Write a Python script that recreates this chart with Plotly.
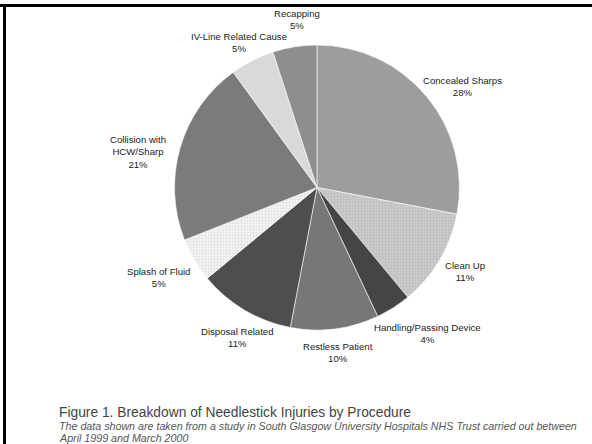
import plotly.graph_objects as go

# Needlestick injuries by procedure (percent of total), clockwise from 12 o'clock
procedures = ["Concealed Sharps", "Clean Up", "Handling/Passing Device",
              "Restless Patient", "Disposal Related", "Splash of Fluid",
              "Collision with HCW/Sharp", "IV-Line Related Cause", "Recapping"]
shares = [28, 11, 4, 10, 11, 5, 21, 5, 5]
label_text = ["Concealed Sharps", "Clean Up", "Handling/Passing Device",
              "Restless Patient", "Disposal Related", "Splash of Fluid",
              "Collision with<br>HCW/Sharp", "IV-Line Related Cause", "Recapping"]

slice_colors = ["#9d9d9d", "#cbcbcb", "#454545", "#777777", "#4e4e4e",
                "#f4f4f4", "#7b7b7b", "#d9d9d9", "#8e8e8e"]
pattern_shapes = ["", ".", "", "", "", ".", "", "", ""]
pattern_fg = ["#9d9d9d", "#a9a9a9", "#454545", "#777777", "#4e4e4e",
              "#c8c8c8", "#7b7b7b", "#d9d9d9", "#8e8e8e"]

caption_title = "Figure 1. Breakdown of Needlestick Injuries by Procedure"
caption_lines = ["The data shown are taken from a study in South Glasgow University "
                 "Hospitals NHS Trust carried out between",
                 "April 1999 and March 2000"]

# label centres in pixels (x from left, y from top) of the 592x444 canvas
label_px = [(462, 86), (465, 271), (427, 333), (338, 352), (237, 337),
            (158, 277), (138, 152), (239, 42), (297, 20)]

W, H = 592, 444

fig = go.Figure(go.Pie(
    labels=procedures, values=shares, sort=False,
    direction="clockwise", rotation=0,
    textinfo="none", hoverinfo="label+percent",
    marker=dict(colors=slice_colors,
                line=dict(color="white", width=0.6),
                pattern=dict(shape=pattern_shapes, fgcolor=pattern_fg,
                             size=3, solidity=0.35, fillmode="overlay")),
    domain=dict(x=[174 / W, 460 / W], y=[(H - 330) / H, (H - 45) / H]),
    showlegend=False,
))

font = "Liberation Sans, Arial, sans-serif"
for txt, v, (px, py) in zip(label_text, shares, label_px):
    fig.add_annotation(x=px / W, y=1 - py / H, xref="paper", yref="paper",
                       text=f"{txt}<br>{v}%", showarrow=False,
                       font=dict(family=font, size=9.6, color="#222222"),
                       align="center", xanchor="center", yanchor="middle")

fig.add_annotation(x=57 / W, y=1 - 412 / H, xref="paper", yref="paper",
                   text=caption_title,
                   showarrow=False, xanchor="left", yanchor="middle",
                   font=dict(family=font, size=13.8, color="#444444"))
for line, py in zip(caption_lines, [425.5, 437.5]):
    fig.add_annotation(x=57 / W, y=1 - py / H, xref="paper", yref="paper",
                       text=f"<i>{line}</i>",
                       showarrow=False, xanchor="left", yanchor="middle",
                       font=dict(family=font, size=10.7, color="#555555"))

# frame: thick black rule along the top and left edges
fig.add_shape(type="line", xref="paper", yref="paper",
              x0=0, x1=1, y0=1 - 5.5 / H, y1=1 - 5.5 / H,
              line=dict(color="black", width=3))
fig.add_shape(type="line", xref="paper", yref="paper",
              x0=4.5 / W, x1=4.5 / W, y0=0, y1=1 - 4 / H,
              line=dict(color="black", width=3))

fig.update_layout(width=W, height=H, margin=dict(l=0, r=0, t=0, b=0),
                  paper_bgcolor="white", plot_bgcolor="white")

fig.write_html("out.html", config={"displayModeBar": False},
               post_script="document.body.style.margin='0';")
